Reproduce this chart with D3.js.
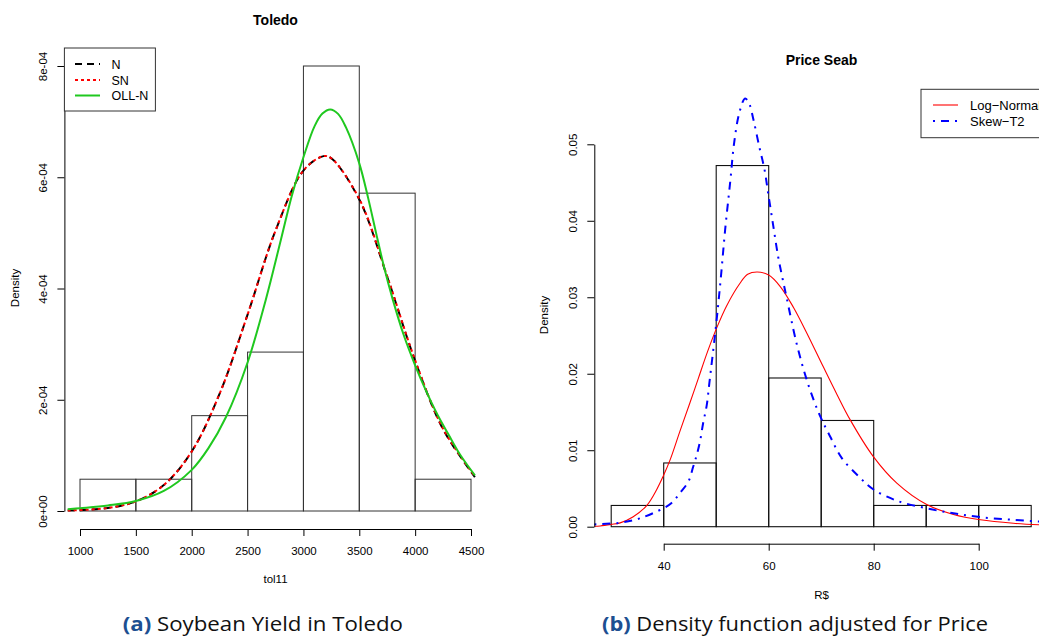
<!DOCTYPE html>
<html>
<head>
<meta charset="utf-8">
<script src="https://cdn.jsdelivr.net/npm/d3@7"></script>
<style>
  html, body { margin: 0; padding: 0; background: #fff; }
  svg { display: block; }
  text { font-family: "Liberation Sans", Arial, sans-serif; fill: #000; }
</style>
</head>
<body>
<svg id="chart" width="1039" height="637"></svg>
<script>
// ---------------- DATA ----------------
// Left panel: Toledo soybean yield histogram
const toledoBinStarts = [1000, 1500, 2000, 2500, 3000, 3500, 4000];
const toledoBinWidth = 500;
const toledoDensity = [5.714e-5, 5.714e-5, 1.714e-4, 2.857e-4, 8.0e-4, 5.714e-4, 5.714e-5];
const toledoXTicks = [1000, 1500, 2000, 2500, 3000, 3500, 4000, 4500];
const toledoYTicks = [0, 2e-4, 4e-4, 6e-4, 8e-4];
const toledoYTickLabels = ["0e+00", "2e-04", "4e-04", "6e-04", "8e-04"];

// Fitted curves (x, density)
const curveNx = [890, 1000, 1250, 1500, 1750, 2000, 2250, 2500, 2750, 3000, 3180, 3250, 3500, 3750, 4000, 4250, 4535];
const curveNy = [8e-7, 1.5e-6, 5.4e-6, 1.72e-5, 4.66e-5, 1.07e-4, 2.11e-4, 3.53e-4, 5.04e-4, 6.12e-4, 6.38e-4, 6.34e-4, 5.60e-4, 4.21e-4, 2.70e-4, 1.47e-4, 6.1e-5];
const curveSNx = [890, 1000, 1250, 1500, 1750, 2000, 2250, 2500, 2750, 3000, 3180, 3250, 3500, 3750, 4000, 4250, 4535];
const curveSNy = [9e-7, 1.6e-6, 5.5e-6, 1.73e-5, 4.67e-5, 1.07e-4, 2.11e-4, 3.53e-4, 5.04e-4, 6.12e-4, 6.38e-4, 6.34e-4, 5.61e-4, 4.22e-4, 2.71e-4, 1.48e-4, 6.2e-5];
const curveOLLx = [890, 1000, 1250, 1500, 1750, 2000, 2150, 2307, 2500, 2662, 2800, 2895, 3000, 3100, 3170, 3240, 3310, 3380, 3500, 3580, 3650, 3720, 3800, 3900, 4000, 4100, 4200, 4300, 4400, 4535];
const curveOLLy = [3e-6, 5e-6, 1.0e-5, 1.8e-5, 3.6e-5, 7.4e-5, 1.13e-4, 1.69e-4, 2.67e-4, 3.79e-4, 4.89e-4, 5.66e-4, 6.36e-4, 6.92e-4, 7.145e-4, 7.22e-4, 7.14e-4, 6.90e-4, 6.25e-4, 5.62e-4, 5.0e-4, 4.4e-4, 3.8e-4, 3.15e-4, 2.62e-4, 2.15e-4, 1.73e-4, 1.37e-4, 1.02e-4, 6.4e-5];

// Right panel: Price Seab histogram
const priceBinStarts = [30, 40, 50, 60, 70, 80, 90, 100];
const priceBinWidth = 10;
const priceDensity = [0.002778, 0.008333, 0.047222, 0.019444, 0.013889, 0.002778, 0.002778, 0.002778];
const priceXTicks = [40, 60, 80, 100];
const priceYTicks = [0, 0.01, 0.02, 0.03, 0.04, 0.05];
const priceYTickLabels = ["0.00", "0.01", "0.02", "0.03", "0.04", "0.05"];

const logNormX = [26.8, 27.9, 30, 31.7, 34.2, 36.8, 38.7, 39.9, 41.2, 43.1, 45.0, 46.6, 48.3, 50.1, 52.0, 54.5, 56.0, 57.8, 60.0, 62.2, 64.7, 67.2, 70.4, 73.0, 75.5, 79.9, 84.4, 90.1, 95.2, 100.3, 106.6, 113.2];
const logNormY = [0.00005, 0.0001, 0.0003, 0.0005, 0.0013, 0.0028, 0.0049, 0.0066, 0.0087, 0.0125, 0.0162, 0.0194, 0.0228, 0.0260, 0.0289, 0.0318, 0.0330, 0.0333, 0.0329, 0.0314, 0.0287, 0.0254, 0.0209, 0.0173, 0.0140, 0.0092, 0.0057, 0.0029, 0.0016, 0.0009, 0.00045, 0.0002];
const skewT2X = [26.8, 28.1, 31.7, 35.5, 39.9, 41.5, 43.1, 44.7, 45.6, 46.3, 46.9, 47.5, 48.2, 48.7, 50.0, 50.9, 51.7, 52.7, 53.4, 54.4, 55.5, 56.3, 57.1, 58.2, 59.2, 59.9, 60.9, 61.8, 62.5, 63.4, 65.3, 67.2, 69.1, 70.1, 71.7, 73.9, 77.4, 79.9, 84.4, 90.1, 95.2, 100.3, 106.6, 113.2];
const skewT2Y = [0.0003, 0.00035, 0.00052, 0.0011, 0.0024, 0.0031, 0.0044, 0.0059, 0.0078, 0.0094, 0.0111, 0.0135, 0.0159, 0.0188, 0.0265, 0.0327, 0.0388, 0.0453, 0.0501, 0.0541, 0.0560, 0.0553, 0.0532, 0.0497, 0.0467, 0.0436, 0.0392, 0.0353, 0.0329, 0.0300, 0.0240, 0.0193, 0.0156, 0.0140, 0.0118, 0.0090, 0.0064, 0.0049, 0.0034, 0.0024, 0.00175, 0.00125, 0.0009, 0.0006];

const leftLegend = ["N", "SN", "OLL-N"];
const rightLegend = ["Log\u2212Normal", "Skew\u2212T2"];
const captionA = ["(a)", " Soybean Yield in Toledo"];
const captionB = ["(b)", " Density function adjusted for Price"];

// ---------------- DRAWING ----------------
const svg = d3.select("#chart");
const zip = (xs, ys) => xs.map((x, i) => [x, ys[i]]);

function drawYAxis(g, scale, ticks, labels, xPos) {
  const ax = d3.axisLeft(scale).tickValues(ticks).tickSize(7).tickSizeOuter(0)
    .tickFormat((d, i) => labels[i]);
  const a = g.append("g").attr("transform", `translate(${xPos},0)`).call(ax);
  a.selectAll("path.domain").attr("stroke", "#000").attr("stroke-width", 1);
  a.selectAll(".tick line").attr("stroke", "#000");
  a.selectAll(".tick text")
    .attr("x", 0).attr("y", -17).attr("dy", 0)
    .attr("transform", "rotate(-90)")
    .attr("text-anchor", "middle")
    .style("font-size", "11.5px").style("font-family", "Liberation Sans, Arial, sans-serif")
    .attr("fill", "#000");
  return a;
}
function drawXAxis(g, scale, ticks, yPos) {
  const ax = d3.axisBottom(scale).tickValues(ticks).tickSize(7).tickSizeOuter(0).tickFormat(d3.format("d"));
  const a = g.append("g").attr("transform", `translate(0,${yPos})`).call(ax);
  a.selectAll("path.domain").attr("stroke", "#000").attr("stroke-width", 1);
  a.selectAll(".tick line").attr("stroke", "#000");
  a.selectAll(".tick text").attr("y", 26).attr("dy", 0)
    .style("font-size", "11.5px").style("font-family", "Liberation Sans, Arial, sans-serif")
    .attr("fill", "#000");
  return a;
}

// ===== Left panel =====
const xL = d3.scaleLinear().domain([1000, 4500]).range([80, 471]);
const yL = d3.scaleLinear().domain([0, 8e-4]).range([511, 66]);
const gL = svg.append("g");

gL.selectAll("rect.bar").data(toledoBinStarts).join("rect")
  .attr("x", d => xL(d)).attr("width", d => xL(d + toledoBinWidth) - xL(d))
  .attr("y", (d, i) => yL(toledoDensity[i]))
  .attr("height", (d, i) => yL(0) - yL(toledoDensity[i]))
  .attr("fill", "none").attr("stroke", "#333").attr("stroke-width", 1);

const lineL = d3.line().x(d => xL(d[0])).y(d => yL(d[1])).curve(d3.curveCatmullRom.alpha(0.5));
gL.append("path").attr("d", lineL(zip(curveNx, curveNy)))
  .attr("fill", "none").attr("stroke", "#000").attr("stroke-width", 2).attr("stroke-dasharray", "7,5");
gL.append("path").attr("d", lineL(zip(curveSNx, curveSNy)))
  .attr("fill", "none").attr("stroke", "#ff0000").attr("stroke-width", 2).attr("stroke-dasharray", "3,3");
gL.append("path").attr("d", lineL(zip(curveOLLx, curveOLLy)))
  .attr("fill", "none").attr("stroke", "#1fc81f").attr("stroke-width", 2);

drawYAxis(gL, yL, toledoYTicks, toledoYTickLabels, 64.4);
drawXAxis(gL, xL, toledoXTicks, 529);

gL.append("text").attr("x", 275.5).attr("y", 25).attr("text-anchor", "middle")
  .style("font-size", "14px").style("font-weight", "bold").text("Toledo");
gL.append("text").attr("x", 275.5).attr("y", 583).attr("text-anchor", "middle")
  .style("font-size", "11.5px").text("tol11");
gL.append("text").attr("transform", "translate(19,288) rotate(-90)").attr("text-anchor", "middle")
  .style("font-size", "11.5px").text("Density");

// Left legend
const legL = gL.append("g");
legL.append("rect").attr("x", 64.4).attr("y", 48).attr("width", 91).attr("height", 63)
  .attr("fill", "#fff").attr("stroke", "#333").attr("stroke-width", 1);
const legLStyles = [
  { stroke: "#000", dash: "7,5" },
  { stroke: "#ff0000", dash: "3,3" },
  { stroke: "#1fc81f", dash: null }
];
const legLRows = [64, 80, 95.5];
leftLegend.forEach((name, i) => {
  const l = legL.append("line").attr("x1", 75).attr("x2", 100).attr("y1", legLRows[i]).attr("y2", legLRows[i])
    .attr("stroke", legLStyles[i].stroke).attr("stroke-width", 2);
  if (legLStyles[i].dash) l.attr("stroke-dasharray", legLStyles[i].dash);
  legL.append("text").attr("x", 111.5).attr("y", legLRows[i] + 4.5).style("font-size", "12.5px").text(name);
});

// ===== Right panel =====
const xR = d3.scaleLinear().domain([40, 100]).range([663.7, 978.7]);
const yR = d3.scaleLinear().domain([0, 0.05]).range([526.7, 144.3]);
const gR = svg.append("g");

gR.selectAll("rect.bar").data(priceBinStarts).join("rect")
  .attr("x", d => xR(d)).attr("width", d => xR(d + priceBinWidth) - xR(d))
  .attr("y", (d, i) => yR(priceDensity[i]))
  .attr("height", (d, i) => yR(0) - yR(priceDensity[i]))
  .attr("fill", "none").attr("stroke", "#111").attr("stroke-width", 1.1);

const lineR = d3.line().x(d => xR(d[0])).y(d => yR(d[1])).curve(d3.curveCatmullRom.alpha(0.5));
gR.append("path").attr("d", lineR(zip(logNormX, logNormY)))
  .attr("fill", "none").attr("stroke", "#ff0000").attr("stroke-width", 1.1);
gR.append("path").attr("d", lineR(zip(skewT2X, skewT2Y)))
  .attr("fill", "none").attr("stroke", "#0000ff").attr("stroke-width", 2).attr("stroke-dasharray", "2,6,8,6");

drawYAxis(gR, yR, priceYTicks, priceYTickLabels, 594.3);
drawXAxis(gR, xR, priceXTicks, 543.7);

gR.append("text").attr("x", 821.5).attr("y", 65).attr("text-anchor", "middle")
  .style("font-size", "14px").style("font-weight", "bold").text("Price Seab");
gR.append("text").attr("x", 821.5).attr("y", 599).attr("text-anchor", "middle")
  .style("font-size", "11.5px").text("R$");
gR.append("text").attr("transform", "translate(548,315) rotate(-90)").attr("text-anchor", "middle")
  .style("font-size", "11.5px").text("Density");

// Right legend (clipped at the right edge, as in the reference)
const legR = gR.append("g");
legR.append("rect").attr("x", 921).attr("y", 89.3).attr("width", 140).attr("height", 48.4)
  .attr("fill", "#fff").attr("stroke", "#333").attr("stroke-width", 1);
const legRStyles = [
  { stroke: "#ff0000", w: 1.1, dash: null },
  { stroke: "#0000ff", w: 2, dash: "2,6,8,6" }
];
const legRRows = [105, 121];
rightLegend.forEach((name, i) => {
  const l = legR.append("line").attr("x1", 933).attr("x2", 958).attr("y1", legRRows[i]).attr("y2", legRRows[i])
    .attr("stroke", legRStyles[i].stroke).attr("stroke-width", legRStyles[i].w);
  if (legRStyles[i].dash) l.attr("stroke-dasharray", legRStyles[i].dash);
  legR.append("text").attr("x", 970).attr("y", legRRows[i] + 4.5).style("font-size", "13px").text(name);
});

// ===== Captions =====
function caption(parts, x0, x1, baseline) {
  const t = svg.append("text").attr("x", x0).attr("y", baseline)
    .style("font-family", "'Open Sans', 'Noto Sans', sans-serif")
    .style("font-size", "20px")
    .attr("textLength", x1 - x0).attr("lengthAdjust", "spacingAndGlyphs");
  t.append("tspan").style("font-weight", "bold").attr("fill", "#1d4f91").text(parts[0]);
  t.append("tspan").attr("fill", "#111").text(parts[1]);
}
caption(captionA, 122.7, 403, 631);
caption(captionB, 602, 988, 631);
</script>
</body>
</html>
